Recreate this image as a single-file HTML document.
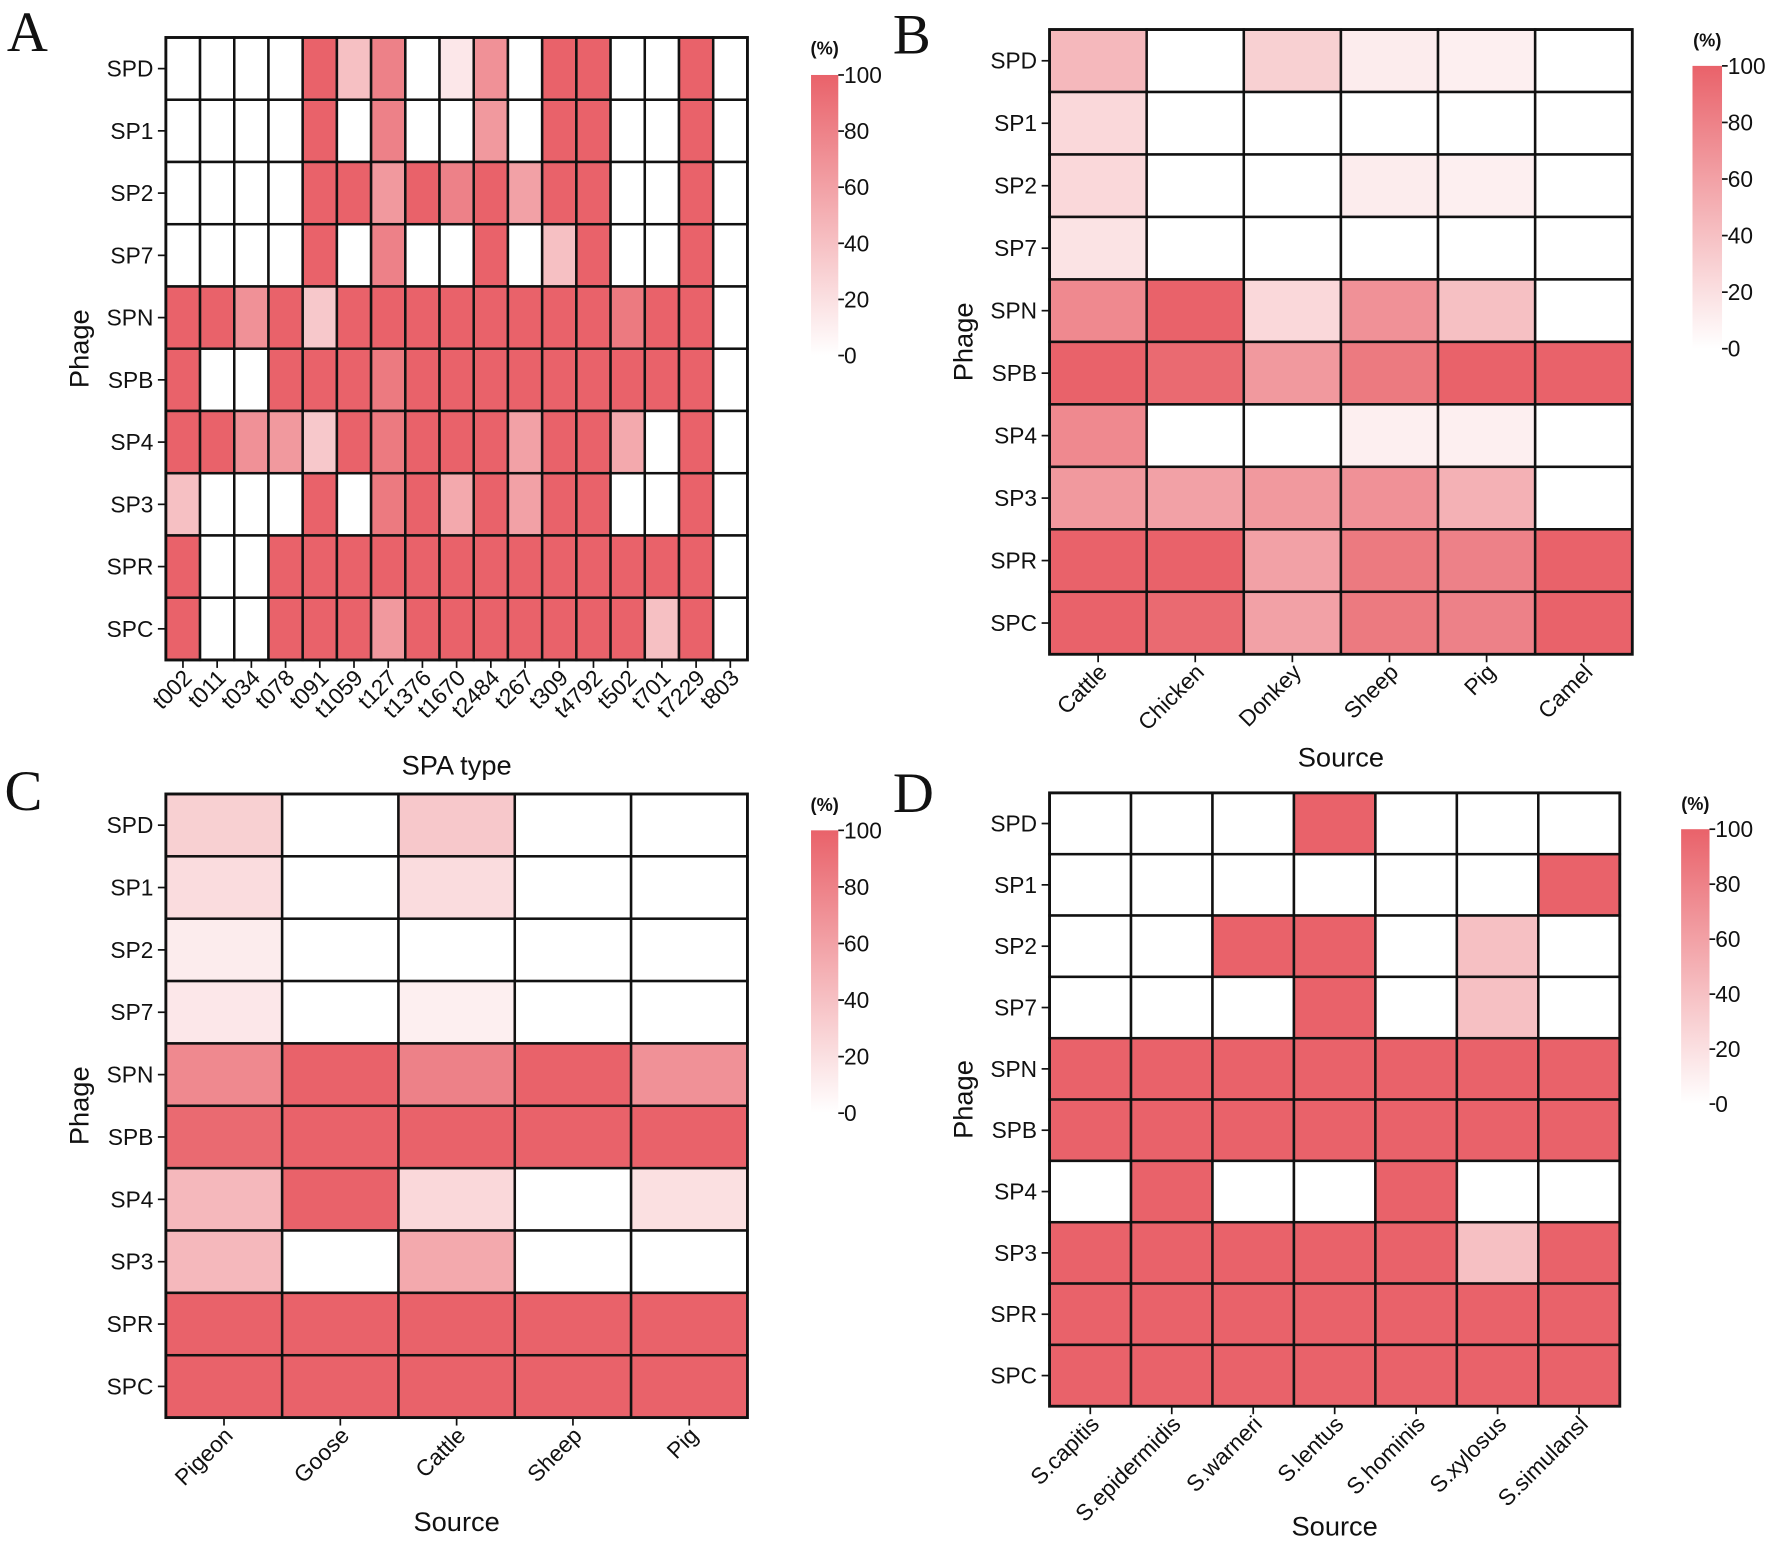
<!DOCTYPE html>
<html><head><meta charset="utf-8"><style>
html,body{margin:0;padding:0;background:#fff;}
svg{display:block;}
text{font-family:"Liberation Sans",Arial,sans-serif;fill:#111;}
.letter{font-family:"Liberation Serif","Times New Roman",serif;font-size:50px;}
</style></head><body>
<svg id="fig" width="1772" height="1543" viewBox="0 0 1560 1358.4" xmlns="http://www.w3.org/2000/svg">
<defs><linearGradient id="cbg" x1="0" y1="1" x2="0" y2="0"><stop offset="0" stop-color="#ffffff"/><stop offset="1" stop-color="#e9626a"/></linearGradient></defs>
</svg>
<script>
const phages = ["SPD","SP1","SP2","SP7","SPN","SPB","SP4","SP3","SPR","SPC"];
const cbTicks = [0,20,40,60,80,100];
const catsA = ["t002","t011","t034","t078","t091","t1059","t127","t1376","t1670","t2484","t267","t309","t4792","t502","t701","t7229","t803"];
const valsA = [
[0,0,0,0,100,40,80,0,15,70,0,100,100,0,0,100,0],
[0,0,0,0,100,0,80,0,0,65,0,100,100,0,0,100,0],
[0,0,0,0,100,100,65,100,80,100,60,100,100,0,0,100,0],
[0,0,0,0,100,0,80,0,0,100,0,40,100,0,0,100,0],
[100,100,70,100,35,100,100,100,100,100,100,100,100,85,100,100,0],
[100,0,0,100,100,100,85,100,100,100,100,100,100,100,100,100,0],
[100,100,70,65,35,100,85,100,100,100,60,100,100,55,0,100,0],
[40,0,0,0,100,0,85,100,55,100,60,100,100,0,0,100,0],
[100,0,0,100,100,100,100,100,100,100,100,100,100,100,100,100,0],
[100,0,0,100,100,100,65,100,100,100,100,100,100,100,40,100,0]];
const catsB = ["Cattle","Chicken","Donkey","Sheep","Pig","Camel"];
const valsB = [
[45,0,30,12,10,0],[25,0,0,0,0,0],[25,0,0,12,10,0],[18,0,0,0,0,0],
[75,100,25,70,40,0],[100,95,65,85,100,100],[75,0,0,10,10,0],
[65,60,65,70,50,0],[100,100,60,85,80,100],[100,95,60,85,80,100]];
const catsC = ["Pigeon","Goose","Cattle","Sheep","Pig"];
const valsC = [
[30,0,35,0,0],[22,0,22,0,0],[12,0,0,0,0],[15,0,10,0,0],
[75,100,80,100,70],[95,100,100,100,100],[45,100,25,0,20],
[45,0,55,0,0],[100,100,100,100,100],[100,100,100,100,100]];
const catsD = ["S.capitis","S.epidermidis","S.warneri","S.lentus","S.hominis","S.xylosus","S.simulansl"];
const valsD = [
[0,0,0,100,0,0,0],[0,0,0,0,0,0,100],[0,0,100,100,0,40,0],[0,0,0,100,0,40,0],
[100,100,100,100,100,100,100],[100,100,100,100,100,100,100],[0,100,0,0,100,0,0],
[100,100,100,100,100,40,100],[100,100,100,100,100,100,100],[100,100,100,100,100,100,100]];

const NS="http://www.w3.org/2000/svg";
const svg=document.getElementById('fig');
function mk(tag,attrs,parent){const e=document.createElementNS(NS,tag);for(const k in attrs)e.setAttribute(k,attrs[k]);(parent||svg).appendChild(e);return e;}
function color(v){const t=Math.max(0,Math.min(100,v))/100;
  const r=Math.round(255+(233-255)*t),g=Math.round(255+(98-255)*t),b=Math.round(255+(106-255)*t);return `rgb(${r},${g},${b})`;}

function panel(id,letter,lx,ly,box,cats,vals,xTitle,xTitleY,cb,cbTitleY){
  const g=mk('g',{});
  
  
  const [x0,y0,x1,y1]=box;
  const cw=(x1-x0)/cats.length, rh=(y1-y0)/phages.length;
  const xs=i=>x0+i*cw, ys=j=>y0+j*rh;
  const L=mk('text',{x:lx,y:ly,class:'letter'},g);L.textContent=letter;
  
  
  for(let j=0;j<phages.length;j++)for(let i=0;i<cats.length;i++){
    const r=mk('rect',{x:xs(i),y:ys(j),width:cw,height:rh,fill:color(vals[j][i]),stroke:'#111','stroke-width':2.2},g);
    
    
  }
  mk('rect',{x:x0,y:y0,width:x1-x0,height:y1-y0,fill:'none',stroke:'#111','stroke-width':2.5},g);
  for(let j=0;j<phages.length;j++){
    const cy=ys(j)+rh/2;
    mk('line',{x1:x0-7,y1:cy,x2:x0,y2:cy,stroke:'#111','stroke-width':1.5},g);
    const t=mk('text',{x:x0-11,y:cy+7,'text-anchor':'end','font-size':20},g);t.textContent=phages[j];
    
    
  }
  for(let i=0;i<cats.length;i++){
    const cx=xs(i)+cw/2;
    mk('line',{x1:cx,y1:y1,x2:cx,y2:y1+7,stroke:'#111','stroke-width':1.5},g);
    const t=mk('text',{x:cx+9,y:y1+17,'text-anchor':'end','font-size':20,transform:`rotate(-45 ${cx+9} ${y1+17})`},g);t.textContent=cats[i];
    
    
  }
  const yt=mk('text',{x:0,y:0,'text-anchor':'middle','font-size':24,transform:`translate(${x0-68},${(y0+y1)/2}) rotate(-90)`},g);yt.textContent='Phage';
  
  
  const xt=mk('text',{x:(x0+x1)/2,y:xTitleY,'text-anchor':'middle','font-size':24},g);xt.textContent=xTitle;
  
  
  const [cx0,cy0,cx1,cy1]=cb;
  const cr=mk('rect',{x:cx0,y:cy0,width:cx1-cx0,height:cy1-cy0,fill:'url(#cbg)'},g);
  
  
  const ct=mk('text',{x:(cx0+cx1)/2,y:cbTitleY,'text-anchor':'middle','font-size':16,'font-weight':'bold'},g);ct.textContent='(%)';
  
  
  cbTicks.forEach(v=>{
    const y=cy1-(cy1-cy0)*v/100;
    mk('line',{x1:cx1,y1:y,x2:cx1+5,y2:y,stroke:'#111','stroke-width':1.5},g);
    const t=mk('text',{x:cx1+5,y:y+7,'font-size':20},g);t.textContent=String(v);
    
    
  });
}
panel('a','A',6,45,[146,33,658,581],catsA,valsA,'SPA type',682,[714,66,738,313],48);
panel('b','B',786,47,[924,26,1437,576],catsB,valsB,'Source',675,[1490,58,1516,307],41);
panel('c','C',4,713,[146,699,658,1248],catsC,valsC,'Source',1348,[714,731,738,980],714);
panel('d','D',786,715,[924,698,1426,1238],catsD,valsD,'Source',1352,[1480,730,1505,972],713);
</script>
</body></html>
